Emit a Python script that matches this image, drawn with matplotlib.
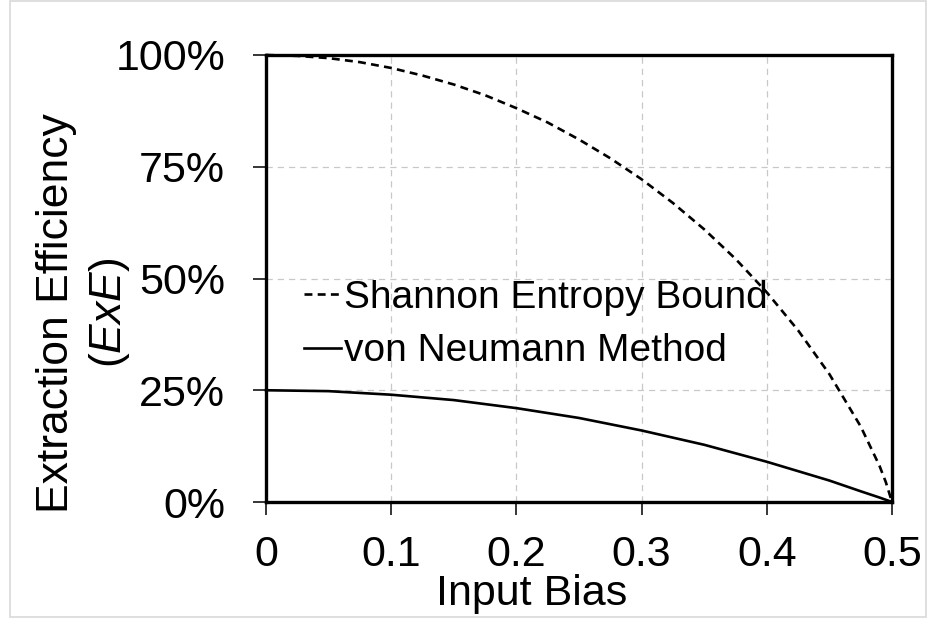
import matplotlib
matplotlib.use("Agg")
import matplotlib.pyplot as plt
from matplotlib.patches import Rectangle

plt.rcParams['font.family'] = ['Liberation Sans', 'DejaVu Sans']
plt.rcParams['mathtext.fontset'] = 'custom'
plt.rcParams['mathtext.it'] = 'Liberation Sans:italic'
plt.rcParams['mathtext.rm'] = 'Liberation Sans'

# Data
bias = [0, 0.025, 0.05, 0.075, 0.1, 0.125, 0.15, 0.175, 0.2, 0.225, 0.25,
        0.275, 0.3, 0.325, 0.35, 0.375, 0.4, 0.425, 0.45, 0.475, 0.49, 0.495, 0.5]
shannon = [100.0, 99.8, 99.3, 98.4, 97.1, 95.4, 93.4, 91.0, 88.1, 84.9, 81.1,
           76.9, 72.2, 66.9, 61.0, 54.4, 46.9, 38.4, 28.6, 16.9, 8.1, 4.5, 0.0]
neumann = [25.0, 24.9, 24.8, 24.4, 24.0, 23.4, 22.8, 21.9, 21.0, 19.9, 18.8,
           17.4, 16.0, 14.4, 12.8, 10.9, 9.0, 6.9, 4.8, 2.4, 1.0, 0.5, 0.0]
xticks = [0, 0.1, 0.2, 0.3, 0.4, 0.5]
xticklabels = ['0', '0.1', '0.2', '0.3', '0.4', '0.5']
yticks = [0, 25, 50, 75, 100]
yticklabels = ['0%', '25%', '50%', '75%', '100%']
labels = ['Shannon Entropy Bound', 'von Neumann Method']

W, H = 927, 619
fig = plt.figure(figsize=(W / 100, H / 100), dpi=100)
ax = fig.add_axes([266 / W, 1 - 502 / H, (892 - 266) / W, (502 - 55) / H])

ax.plot(bias, shannon, color='black', lw=1.9, linestyle=(0, (3.0, 2.0)),
        label=labels[0], clip_on=False, zorder=3)
ax.plot(bias, neumann, color='black', lw=1.9, linestyle='-',
        label=labels[1], clip_on=False, zorder=3)

ax.set_xlim(0, 0.5)
ax.set_ylim(0, 100)
ax.set_xticks(xticks)
ax.set_xticklabels(xticklabels)
ax.set_yticks(yticks)
ax.set_yticklabels(yticklabels)
ax.tick_params(axis='both', direction='out', length=9.5, width=1.1,
               labelsize=31, color='black', labelcolor='black')
ax.tick_params(axis='x', pad=14)
ax.tick_params(axis='y', pad=20)
ax.grid(True, color='#c8c8c8', lw=0.9, linestyle=(0, (5, 4)))
ax.set_axisbelow(True)
for s in ax.spines.values():
    s.set_linewidth(2.4)
    s.set_color('black')

leg = ax.legend(loc='upper left', bbox_to_anchor=(0.06, 0.497), frameon=False,
                fontsize=28, handlelength=0.95, handletextpad=0.1,
                labelspacing=0.45, borderaxespad=0, borderpad=0)
for t in leg.get_texts():
    t.set_color('black')

fig.text(57 / W, 1 - 313 / H, 'Extraction Efficiency', rotation=90,
         ha='center', va='center', fontsize=32)
fig.text(109 / W, 1 - 313 / H, r'($\it{ExE}$)', rotation=90,
         ha='center', va='center', fontsize=32)
fig.text(532 / W, 1 - 605 / H, 'Input Bias', ha='center', va='baseline',
         fontsize=31)

fig.patches.append(Rectangle((10 / W, 1 - 617 / H), (926 - 10) / W, (617 - 1) / H,
                             transform=fig.transFigure, fill=False,
                             edgecolor='#d9d9d9', lw=1.2))

fig.savefig('out.png', dpi=100)
